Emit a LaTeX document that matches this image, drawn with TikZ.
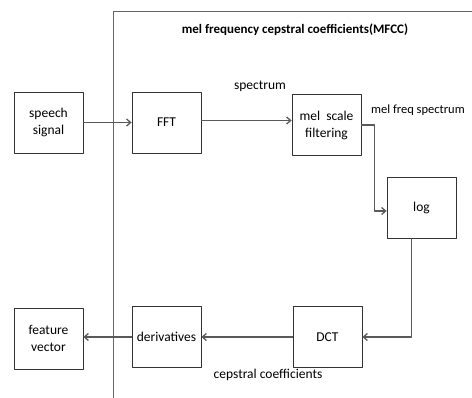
\documentclass[tikz,border=0pt]{standalone}
\usepackage{fontspec}
\setmainfont{Carlito}
\usetikzlibrary{arrows.meta}
\begin{document}
\begin{tikzpicture}[x=1pt, y=-1pt, font=\fontsize{13.5}{17}\selectfont, line join=round, line cap=round,
  >={Straight Barb[length=4pt,width=7pt]},
  blok/.style={draw=black!80, line width=0.8pt, minimum width=69pt, minimum height=61pt, align=center, inner sep=1pt},
  flow/.style={->, draw=black!65, line width=1.3pt}]
\useasboundingbox (0,0) rectangle (472,398);
\draw[black!60, line width=0.9pt] (113,398) -- (113,11) -- (472,11);
\node (title) at (295,30) {\fontsize{13}{15}\selectfont\bfseries mel frequency cepstral coefficients(MFCC)};
\node[blok] (speech) at (48.5,122.5) {speech\\signal};
\node[blok] (fft) at (166.5,122.5) {FFT};
\node[blok] (mel) at (326.5,125) {mel\ \ scale\\filtering};
\node[blok] (log) at (421.5,208) {log};
\node[blok] (dct) at (327.5,337) {DCT};
\node[blok] (deriv) at (166.5,337) {derivatives};
\node[blok] (feat) at (48.5,338.5) {feature\\vector};
\node (spec) at (260,86) {spectrum};
\node[anchor=west, inner sep=1pt, font=\fontsize{12.5}{15}\selectfont] (melspec) at (370,110) {mel freq spectrum};
\node (cep) at (268,375) {cepstral coefficients};
\draw[flow] (speech.east) -- (fft.west);
\draw[flow] ([yshift=2pt]fft.east) -- ([yshift=2pt]fft.east -| mel.west);
\draw[flow] (mel.east) -- ++(13,0) |- ([yshift=-3pt]log.west);
\draw[flow] ([xshift=-10pt]log.south) |- (dct.east);
\draw[flow] (dct.west) -- (deriv.east);
\draw[flow] (deriv.west) -- (deriv.west -| feat.east);
\end{tikzpicture}
\end{document}
